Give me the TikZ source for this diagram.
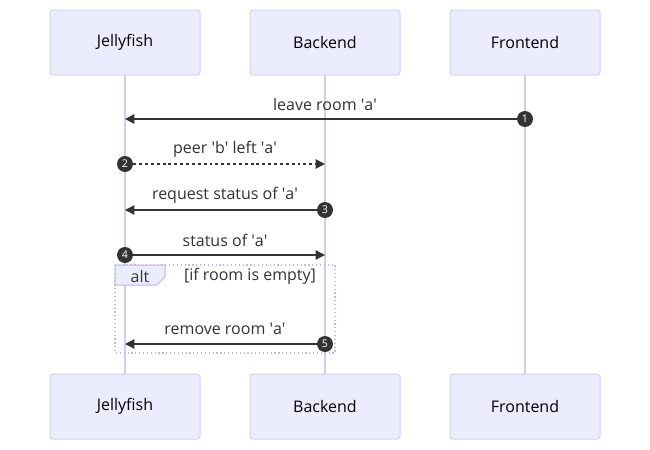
\documentclass[tikz,border=0pt]{standalone}
\usepackage{fontspec}
\setmainfont{Open Sans}
\usetikzlibrary{arrows.meta}
\newcommand{\sq}{\textquotesingle}
\definecolor{actfill}{HTML}{ECECFF}
\definecolor{actborder}{HTML}{D6CFF2}
\definecolor{lifeln}{HTML}{D3CBEF}
\definecolor{sig}{HTML}{333333}
\definecolor{altborder}{HTML}{C4B4E6}
\tikzset{
  x=0.75pt, y=-0.75pt,
  actor/.style={draw=actborder, fill=actfill, rounded corners=2.25pt, minimum width=112.5pt, minimum height=48.75pt, inner sep=0pt, font=\fontsize{12}{14}\selectfont, line width=0.75pt},
  life/.style={draw=lifeln, line width=1.1pt},
  msg/.style={draw=sig, line width=1.1pt, -{Triangle[length=7pt,width=7pt]}},
  num/.style={circle, fill=sig, text=white, minimum size=12pt, inner sep=0pt, font=\fontsize{8}{9}\selectfont},
  mlabel/.style={font=\fontsize{12}{14}\selectfont, text=sig, inner sep=0pt},
}
\begin{document}
\begin{tikzpicture}
\useasboundingbox (0,0) rectangle (650,450);
% lifelines
\coordinate (jt) at (125,75); \coordinate (jb) at (125,374);
\coordinate (bt) at (325,75); \coordinate (bb) at (325,374);
\coordinate (ft) at (525,75); \coordinate (fb) at (525,374);
\draw[life] (jt) -- (jb);
\draw[life] (bt) -- (bb);
\draw[life] (ft) -- (fb);
% actors
\node[actor] (j1) at (125,42.5) {Jellyfish};
\node[actor] (b1) at (325,42.5) {Backend};
\node[actor] (f1) at (525,42.5) {Frontend};
\node[actor] (j2) at (125,406.5) {Jellyfish};
\node[actor] (b2) at (325,406.5) {Backend};
\node[actor] (f2) at (525,406.5) {Frontend};
% alt frame
\draw[altborder, line width=0.9pt, dotted] (115,265) rectangle (335,353);
\draw[altborder, fill=actfill, line width=0.75pt] (115,265) -- (165,265) -- (165,277) -- (157,285) -- (115,285) -- cycle;
\node[mlabel] (altl) at (140,276) {alt};
\node[mlabel] (altc) at (250,276) {[if room is empty]};
% messages
\coordinate (m1j) at (125,119);
\node[num] (n1) at (525,119) {1};
\draw[msg] (n1) -- (m1j);
\node[mlabel] (l1) at (325,104) {leave room \sq a\sq};

\coordinate (m2b) at (325,164);
\node[num] (n2) at (125,164) {2};
\draw[msg, dash pattern=on 2.2pt off 2.2pt] (n2) -- (m2b);
\node[mlabel] (l2) at (225,149) {peer \sq b\sq\ left \sq a\sq};

\coordinate (m3j) at (125,210);
\node[num] (n3) at (325,210) {3};
\draw[msg] (n3) -- (m3j);
\node[mlabel] (l3) at (225,195) {request status of \sq a\sq};

\coordinate (m4b) at (325,255);
\node[num] (n4) at (125,255) {4};
\draw[msg] (n4) -- (m4b);
\node[mlabel] (l4) at (225,240) {status of \sq a\sq};

\coordinate (m5j) at (125,344);
\node[num] (n5) at (325,344) {5};
\draw[msg] (n5) -- (m5j);
\node[mlabel] (l5) at (225,329) {remove room \sq a\sq};
\end{tikzpicture}
\end{document}
